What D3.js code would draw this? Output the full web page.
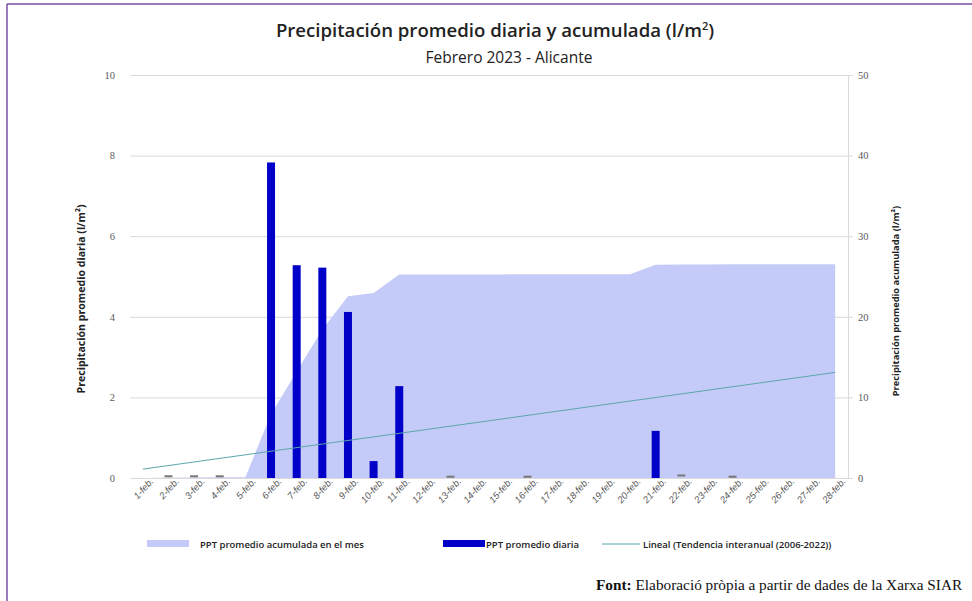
<!DOCTYPE html>
<html>
<head>
<meta charset="utf-8">
<script src="https://cdn.jsdelivr.net/npm/d3@7"></script>
<style>
  html, body { margin: 0; padding: 0; background: #fff; overflow: hidden; }
  svg { display: block; }
</style>
</head>
<body>
<div id="chart"></div>
<script>
var days = ["1-feb.", "2-feb.", "3-feb.", "4-feb.", "5-feb.", "6-feb.", "7-feb.", "8-feb.", "9-feb.", "10-feb.",
            "11-feb.", "12-feb.", "13-feb.", "14-feb.", "15-feb.", "16-feb.", "17-feb.", "18-feb.", "19-feb.", "20-feb.",
            "21-feb.", "22-feb.", "23-feb.", "24-feb.", "25-feb.", "26-feb.", "27-feb.", "28-feb."];
var dailyPpt = [0, 0.03, 0.03, 0.03, 0, 7.83, 5.28, 5.22, 4.12, 0.42,
                2.28, 0, 0.02, 0, 0, 0.02, 0, 0, 0, 0,
                1.17, 0.05, 0, 0.02, 0, 0, 0, 0];
var cumulativePpt = [0, 0.03, 0.06, 0.09, 0.09, 7.92, 13.2, 18.42, 22.54, 22.96,
                     25.24, 25.24, 25.26, 25.26, 25.26, 25.28, 25.28, 25.28, 25.28, 25.28,
                     26.45, 26.5, 26.5, 26.52, 26.52, 26.52, 26.52, 26.52];
var trendStart = 1.1, trendEnd = 13.1;
var leftTicks = [0, 2, 4, 6, 8, 10];
var rightTicks = [0, 10, 20, 30, 40, 50];

var width = 972,
    height = 601;
var plot = { left: 130, right: 848, top: 75, bottom: 478 };
var gridColor = "#d9d9d9",
    textColor = "#595959",
    areaColor = "#c5cbf9",
    barColor = "#0000c8",
    trendColor = "#5aa6ac";

var svg = d3.select("#chart").append("svg")
  .attr("width", width)
  .attr("height", height);

// purple frame (top and left only)
svg.append("line").attr("x1", 7).attr("x2", width).attr("y1", 4).attr("y2", 4)
  .attr("stroke", "#7b4fa6").attr("stroke-width", 1.5);
svg.append("line").attr("x1", 7).attr("x2", 7).attr("y1", 4).attr("y2", height)
  .attr("stroke", "#7b4fa6").attr("stroke-width", 1.5);

var x = d3.scaleBand()
  .domain(days)
  .range([plot.left, plot.right]);
var yLeft = d3.scaleLinear()
  .domain([0, 10])
  .range([plot.bottom, plot.top]);
var yRight = d3.scaleLinear()
  .domain([0, 50])
  .range([plot.bottom, plot.top]);

function cx(d) { return x(d) + x.bandwidth() / 2; }

// titles
var title = svg.append("text")
  .attr("x", 495).attr("y", 37)
  .attr("text-anchor", "middle")
  .attr("font-family", "Open Sans")
  .attr("font-weight", 600)
  .attr("font-size", 18.6)
  .attr("fill", "#222");
title.append("tspan").text("Precipitación promedio diaria y acumulada (l/m");
title.append("tspan").attr("baseline-shift", "super").attr("font-size", 11).text("2");
title.append("tspan").text(")");

svg.append("text")
  .attr("x", 509).attr("y", 63)
  .attr("text-anchor", "middle")
  .attr("font-family", "Open Sans")
  .attr("font-size", 15.5)
  .attr("fill", "#222")
  .text("Febrero 2023 - Alicante");

// gridlines from the left axis
svg.append("g")
  .attr("transform", "translate(" + plot.left + ",0)")
  .call(d3.axisLeft(yLeft).tickValues(leftTicks).tickSize(-(plot.right - plot.left)).tickPadding(15))
  .call(function(g) {
    g.select(".domain").remove();
    g.selectAll(".tick line").attr("stroke", gridColor);
    g.selectAll(".tick text")
      .attr("fill", textColor)
      .attr("font-family", "Liberation Serif")
      .attr("font-size", 10.5);
  });

// right axis
svg.append("g")
  .attr("transform", "translate(" + plot.right + ",0)")
  .call(d3.axisRight(yRight).tickValues(rightTicks).tickSize(5).tickPadding(5))
  .call(function(g) {
    g.select(".domain").attr("stroke", gridColor);
    g.selectAll(".tick line").attr("stroke", gridColor);
    g.selectAll(".tick text")
      .attr("fill", textColor)
      .attr("font-family", "Liberation Serif")
      .attr("font-size", 10.5);
  });

// cumulative area (right axis)
var area = d3.area()
  .x(function(d, i) { return cx(days[i]); })
  .y0(plot.bottom)
  .y1(function(d) { return yRight(d); });
svg.append("path")
  .datum(cumulativePpt)
  .attr("d", area)
  .attr("fill", areaColor);

// bottom axis
svg.append("g")
  .attr("transform", "translate(0," + plot.bottom + ")")
  .call(d3.axisBottom(x).tickSize(0).tickPadding(6))
  .call(function(g) {
    g.select(".domain").attr("stroke", gridColor);
    g.selectAll(".tick text")
      .attr("fill", textColor)
      .attr("font-family", "Liberation Sans")
      .attr("font-style", "italic")
      .attr("font-size", 9.5)
      .attr("text-anchor", "end")
      .attr("dx", "0.5em")
      .attr("dy", "0.5em")
      .attr("transform", "rotate(-48)");
  });

// daily bars (left axis)
var barWidth = 8;
svg.append("g")
  .selectAll("rect")
  .data(dailyPpt)
  .enter()
    .append("rect")
    .attr("x", function(d, i) { return cx(days[i]) - barWidth / 2; })
    .attr("y", function(d) { return yLeft(d) - (d > 0 && d < 0.1 ? 1.5 : 0); })
    .attr("width", barWidth)
    .attr("height", function(d) { return d > 0 && d < 0.1 ? 2 : plot.bottom - yLeft(d); })
    .attr("fill", function(d) { return d > 0 && d < 0.1 ? "#777" : barColor; });

// trend line (right axis)
svg.append("line")
  .attr("x1", cx(days[0])).attr("y1", yRight(trendStart))
  .attr("x2", cx(days[days.length - 1])).attr("y2", yRight(trendEnd))
  .attr("stroke", trendColor)
  .attr("stroke-width", 1);

// axis titles
svg.append("text")
  .attr("transform", "translate(85,299) rotate(-90)")
  .attr("text-anchor", "middle")
  .attr("font-family", "Open Sans")
  .attr("font-weight", 700)
  .attr("font-size", 10.6)
  .attr("fill", "#222")
  .text("Precipitación promedio diaria (l/m²)");

svg.append("text")
  .attr("transform", "translate(899,301) rotate(-90)")
  .attr("text-anchor", "middle")
  .attr("font-family", "Open Sans")
  .attr("font-weight", 700)
  .attr("font-size", 9.3)
  .attr("fill", "#222")
  .text("Precipitación promedio acumulada (l/m²)");

// legend
var legendItems = [
  { label: "PPT promedio acumulada en el mes", type: "area", x: 147, textX: 200 },
  { label: "PPT promedio diaria", type: "bar", x: 443, textX: 486 },
  { label: "Lineal (Tendencia interanual (2006-2022))", type: "line", x: 602, textX: 643 }
];
var legendY = 544;
var legend = svg.append("g");
legendItems.forEach(function(item) {
  if (item.type === "line") {
    legend.append("line")
      .attr("x1", item.x).attr("x2", item.x + 38)
      .attr("y1", legendY).attr("y2", legendY)
      .attr("stroke", trendColor).attr("stroke-width", 1);
  } else {
    legend.append("rect")
      .attr("x", item.x).attr("y", legendY - 4)
      .attr("width", 42).attr("height", 7)
      .attr("fill", item.type === "area" ? areaColor : barColor);
  }
  legend.append("text")
    .attr("x", item.textX).attr("y", legendY + 3.5)
    .attr("font-family", "Open Sans")
    .attr("font-weight", 600)
    .attr("font-size", 9.5)
    .attr("fill", "#222")
    .text(item.label);
});

// source note
var note = svg.append("text")
  .attr("x", 596).attr("y", 590)
  .attr("font-family", "Liberation Serif")
  .attr("font-size", 15.3)
  .attr("fill", "#111");
note.append("tspan").attr("font-weight", 700).text("Font:");
note.append("tspan").text(" Elaboració pròpia a partir de dades de la Xarxa SIAR");
</script>
</body>
</html>
